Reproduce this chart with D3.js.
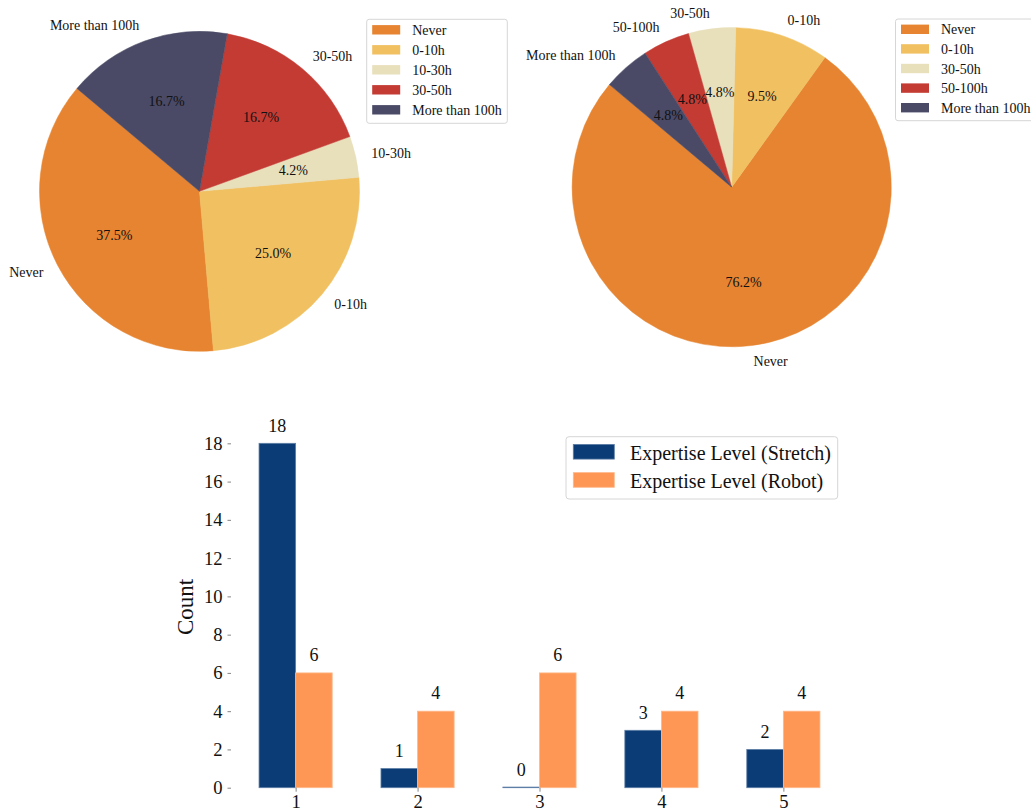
<!DOCTYPE html>
<html>
<head>
<meta charset="utf-8">
<script src="https://cdn.jsdelivr.net/npm/d3@7"></script>
<style>
  html, body { margin: 0; padding: 0; background: #fff; }
  svg { display: block; }
  text { font-family: "Liberation Serif", "Times New Roman", "DejaVu Serif", serif; fill: #111; }
</style>
</head>
<body>
<svg id="chart" width="1031" height="812"></svg>
<script>
// ---------- data ----------
const pie1Labels = ["Never", "0-10h", "10-30h", "30-50h", "More than 100h"];
const pie1Values = [9, 6, 1, 4, 4];
const pie2Labels = ["Never", "0-10h", "30-50h", "50-100h", "More than 100h"];
const pie2Values = [16, 2, 1, 1, 1];
const pieColors = ["#E68431", "#F1C061", "#E8DFBB", "#C43B34", "#4A4A66"];

const barCategories = ["1", "2", "3", "4", "5"];
const stretchValues = [18, 1, 0, 3, 2];
const robotValues = [6, 4, 6, 4, 4];
const seriesNames = ["Expertise Level (Stretch)", "Expertise Level (Robot)"];
const barColors = ["#0B3C76", "#FE9756"];
const barEdge = ["#5D7EA6", "#FFB98A"];
const yTicks = [0, 2, 4, 6, 8, 10, 12, 14, 16, 18];

const svg = d3.select("#chart");
const PIE_FONT = "14px";

// ---------- pies ----------
function drawPie(cfg) {
  const g = svg.append("g").attr("transform", `translate(${cfg.cx},${cfg.cy})`);
  const total = d3.sum(cfg.values);
  const start = (90 - 140) * Math.PI / 180; // matplotlib startangle=140, counter-clockwise
  const pie = d3.pie().sort(null).value(d => d.v)
    .startAngle(start).endAngle(start - 2 * Math.PI);
  const data = pie(cfg.values.map((v, i) => ({ v, label: cfg.labels[i], i })));
  const arc = d3.arc().innerRadius(0).outerRadius(cfg.r);

  g.selectAll("path.w").data(data).join("path")
    .attr("class", "w")
    .attr("d", arc)
    .attr("fill", d => pieColors[d.data.i])
    .attr("stroke", d => pieColors[d.data.i])
    .attr("stroke-width", 0.5);

  const mid = d => (d.startAngle + d.endAngle) / 2;
  g.selectAll("text.lab").data(data).join("text")
    .attr("class", "lab")
    .attr("x", d => cfg.r * 1.1 * Math.sin(mid(d)))
    .attr("y", d => -cfg.r * 1.1 * Math.cos(mid(d)))
    .attr("text-anchor", d => Math.sin(mid(d)) > 0 ? "start" : "end")
    .attr("dominant-baseline", "central")
    .style("font-size", PIE_FONT)
    .text(d => d.data.label);

  g.selectAll("text.pct").data(data).join("text")
    .attr("class", "pct")
    .attr("x", d => cfg.r * 0.6 * Math.sin(mid(d)))
    .attr("y", d => -cfg.r * 0.6 * Math.cos(mid(d)))
    .attr("text-anchor", "middle")
    .attr("dominant-baseline", "central")
    .style("font-size", PIE_FONT)
    .text(d => (d.data.v / total * 100).toFixed(1) + "%");

  // legend
  const lg = svg.append("g").attr("transform", `translate(${cfg.lx},${cfg.ly})`);
  lg.append("rect").attr("x", 0).attr("y", 0)
    .attr("width", cfg.lw).attr("height", cfg.lh)
    .attr("rx", 2.5).attr("fill", "#fff").attr("fill-opacity", 0.8)
    .attr("stroke", "#d6d6d6").attr("stroke-width", 1);
  const rows = lg.selectAll("g.row").data(cfg.labels).join("g")
    .attr("class", "row")
    .attr("transform", (d, i) => `translate(0,${cfg.rowY0 + i * cfg.rowStep})`);
  rows.append("rect").attr("x", 5.5).attr("y", -4.7).attr("width", 28).attr("height", 9.4)
    .attr("fill", (d, i) => pieColors[i]);
  rows.append("text").attr("x", 45.5).attr("y", 0.5)
    .attr("dominant-baseline", "central")
    .style("font-size", PIE_FONT)
    .text(d => d);
}

drawPie({ cx: 199.5, cy: 191.3, r: 160, values: pie1Values, labels: pie1Labels,
  lx: 366.7, ly: 19.3, lw: 140.6, lh: 104, rowY0: 10.5, rowStep: 20 });
drawPie({ cx: 731.7, cy: 187.2, r: 159.6, values: pie2Values, labels: pie2Labels,
  lx: 895.5, ly: 19, lw: 140, lh: 101.7, rowY0: 10.3, rowStep: 19.6 });

// ---------- bar chart ----------
const x = d3.scaleLinear().domain([0.47, 5.53]).range([231, 848]);
const y = d3.scaleLinear().domain([0, 18.9]).range([787.7, 426.1]);
const bw = x(1.3) - x(1);

const bg = svg.append("g");
const series = [stretchValues, robotValues];
series.forEach((vals, s) => {
  bg.selectAll(`rect.s${s}`).data(vals).join("rect")
    .attr("class", `s${s}`)
    .attr("x", (d, i) => x(i + 1) + (s === 0 ? -bw : 0))
    .attr("y", d => Math.min(y(d), y(0) - 0.6))
    .attr("width", bw)
    .attr("height", d => Math.max(y(0) - y(d), 0.6))
    .attr("fill", barColors[s])
    .attr("stroke", barEdge[s])
    .attr("stroke-width", 0.8);
  bg.selectAll(`text.v${s}`).data(vals).join("text")
    .attr("class", `v${s}`)
    .attr("x", (d, i) => x(i + 1) + (s === 0 ? -bw / 2 : bw / 2))
    .attr("y", d => y(d) - 11.8)
    .attr("text-anchor", "middle")
    .style("font-size", "18px")
    .text(d => d);
});

// y axis
const yAxis = d3.axisLeft(y).tickValues(yTicks).tickSize(3.5).tickPadding(5).tickFormat(d3.format("d"));
const ya = svg.append("g").attr("transform", "translate(231,0)").call(yAxis);
ya.select(".domain").remove();
ya.selectAll(".tick line").attr("stroke", "#666").attr("stroke-width", 0.8);
ya.selectAll(".tick text").style("font-size", "18.6px")
  .style("font-family", '"Liberation Serif", "Times New Roman", serif').attr("fill", "#111");

// x axis
const xAxis = d3.axisBottom(x).tickValues([1, 2, 3, 4, 5]).tickSize(4).tickPadding(3)
  .tickFormat((d, i) => barCategories[i]);
const xa = svg.append("g").attr("transform", `translate(0,${y(0)})`).call(xAxis);
xa.select(".domain").remove();
xa.selectAll(".tick line").attr("stroke", "#666").attr("stroke-width", 0.8);
xa.selectAll(".tick text").style("font-size", "18.6px")
  .style("font-family", '"Liberation Serif", "Times New Roman", serif').attr("fill", "#111");

// y label
svg.append("text")
  .attr("transform", `translate(193,${(y(0) + y(18.9)) / 2}) rotate(-90)`)
  .attr("text-anchor", "middle")
  .style("font-size", "23px")
  .text("Count");

// bar legend
const bl = svg.append("g").attr("transform", "translate(566,436.7)");
bl.append("rect").attr("width", 271.7).attr("height", 62.3)
  .attr("rx", 3).attr("fill", "#fff").attr("fill-opacity", 0.8)
  .attr("stroke", "#d6d6d6").attr("stroke-width", 1);
const brow = bl.selectAll("g.row").data(seriesNames).join("g")
  .attr("class", "row")
  .attr("transform", (d, i) => `translate(0,${15 + i * 28.2})`);
brow.append("rect").attr("x", 7.3).attr("y", -7.3).attr("width", 41).attr("height", 14.7)
  .attr("fill", (d, i) => barColors[i]).attr("stroke", (d, i) => barEdge[i]).attr("stroke-width", 0.8);
brow.append("text").attr("x", 64).attr("y", 1)
  .attr("dominant-baseline", "central")
  .style("font-size", "20px")
  .text(d => d);
</script>
</body>
</html>
